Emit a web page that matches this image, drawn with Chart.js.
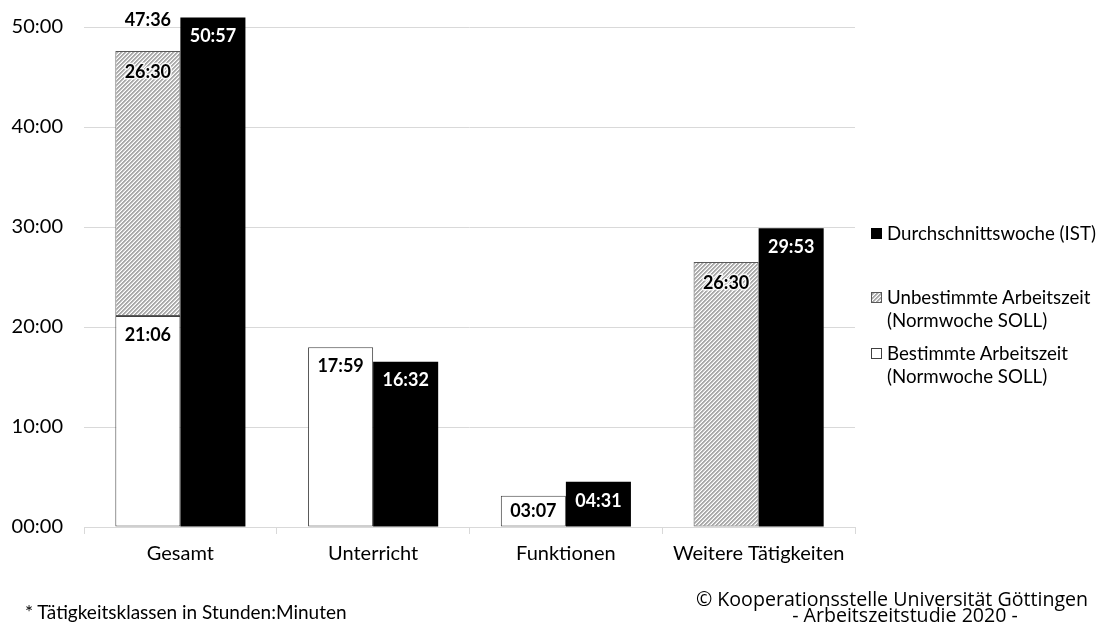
<!DOCTYPE html>
<html>
<head>
<meta charset="utf-8">
<script src="https://cdn.jsdelivr.net/npm/chart.js@4/dist/chart.umd.min.js"></script>
<style>
  html, body { margin: 0; padding: 0; background: #fff; }
  #wrap { position: relative; width: 1100px; height: 623px; overflow: hidden; }
  canvas { position: absolute; left: 0; top: 0; }
  .leg { position: absolute; left: 870px; font-family: Lato, sans-serif; font-size: 18.7px; color: #000; line-height: 23px; white-space: nowrap; }
  .sw { position: absolute; left: 1px; top: 6px; width: 11px; height: 11px; box-sizing: border-box; }
  .leg span.t { display: block; margin-left: 17px; }
  .foot1 { position: absolute; left: 25px; top: 600px; font-family: Lato, sans-serif; font-size: 19px; color: #000; white-space: nowrap; }
  .foot2 { position: absolute; width: 400px; text-align: center; font-family: "Open Sans", sans-serif; font-size: 19.6px; line-height: 19px; color: #000; white-space: nowrap; }
</style>
</head>
<body>
<div id="wrap">
  <canvas id="c" width="1100" height="623"></canvas>
  <div class="leg" style="top:222px"><div class="sw" style="background:#000"></div><span class="t">Durchschnittswoche (IST)</span></div>
  <div class="leg" style="top:286px"><div class="sw" id="swH" style="border:1px solid #595959"></div><span class="t">Unbestimmte Arbeitszeit<br>(Normwoche SOLL)</span></div>
  <div class="leg" style="top:342px"><div class="sw" style="background:#fff;border:1px solid #404040"></div><span class="t">Bestimmte Arbeitszeit<br>(Normwoche SOLL)</span></div>
  <div class="foot1">* Tätigkeitsklassen in Stunden:Minuten</div>
  <div class="foot2" style="left:692px; top:589px">© Kooperationsstelle Universität Göttingen</div>
  <div class="foot2" style="left:705px; top:605px">- Arbeitszeitstudie 2020 -</div>
</div>
<script>
// ---- data ----
const categories = ['Gesamt', 'Unterricht', 'Funktionen', 'Weitere Tätigkeiten'];
const seriesNames = ['Bestimmte Arbeitszeit (Normwoche SOLL)', 'Unbestimmte Arbeitszeit (Normwoche SOLL)', 'Durchschnittswoche (IST)'];
const bestimmtTimes = ['21:06', '17:59', '03:07', null];
const unbestimmtTimes = ['26:30', null, null, '26:30'];
const istTimes = ['50:57', '16:32', '04:31', '29:53'];
const sollTotalTimes = ['47:36', null, null, null];
const yTickValues = [0, 10, 20, 30, 40, 50];
const yTickLabels = ['00:00', '10:00', '20:00', '30:00', '40:00', '50:00'];

function toHours(s) { if (!s) return null; const p = s.split(':'); return (+p[0]) + (+p[1]) / 60; }
const bestimmtVals = bestimmtTimes.map(toHours);
const unbestimmtVals = unbestimmtTimes.map(toHours);
const istVals = istTimes.map(toHours);

// hatch pattern
function makeHatch() {
  const n = 4;
  const shades = [170, 170, 215, 255];
  const cv = document.createElement('canvas'); cv.width = n; cv.height = n;
  const cx = cv.getContext('2d');
  const img = cx.createImageData(n, n);
  for (let y = 0; y < n; y++) for (let x = 0; x < n; x++) {
    const i = (y * n + x) * 4;
    const g = shades[(x + y) % n];
    img.data[i] = g; img.data[i+1] = g; img.data[i+2] = g; img.data[i+3] = 255;
  }
  cx.putImageData(img, 0, 0);
  return cv;
}
const hatchCanvas = makeHatch();
const ctx = document.getElementById('c').getContext('2d');
const hatch = ctx.createPattern(hatchCanvas, 'repeat');
document.getElementById('swH').style.background = 'url(' + hatchCanvas.toDataURL() + ')';

const labelSets = [bestimmtTimes, unbestimmtTimes, istTimes];

const labelPlugin = {
  id: 'valueLabels',
  afterDatasetsDraw(chart) {
    const c = chart.ctx;
    c.save();
    c.font = 'bold 18px Lato, sans-serif';
    c.textAlign = 'center';
    c.textBaseline = 'middle';
    chart.data.datasets.forEach((ds, di) => {
      const meta = chart.getDatasetMeta(di);
      meta.data.forEach((bar, i) => {
        const txt = labelSets[di][i];
        if (!txt) return;
        const top = Math.min(bar.y, bar.base);
        const h = Math.abs(bar.base - bar.y);
        const y = top + Math.min(di === 1 ? 21 : 19, h / 2);
        c.fillStyle = di === 2 ? '#fff' : '#000';
        if (di === 1) {
          c.lineWidth = 3; c.strokeStyle = 'rgba(255,255,255,0.85)'; c.lineJoin = 'round';
          c.strokeText(txt, bar.x, y);
        }
        c.fillText(txt, bar.x, y);
      });
    });
    const meta1 = chart.getDatasetMeta(1);
    meta1.data.forEach((bar, i) => {
      const txt = sollTotalTimes[i];
      if (!txt) return;
      c.fillStyle = '#000';
      c.fillText(txt, bar.x, bar.y - 31);
    });
    c.restore();
  }
};

new Chart(ctx, {
  type: 'bar',
  data: {
    labels: categories,
    datasets: [
      { label: seriesNames[0], data: bestimmtVals, stack: 'soll', backgroundColor: '#ffffff', borderColor: '#404040', borderWidth: 1, borderSkipped: false },
      { label: seriesNames[1], data: unbestimmtVals, stack: 'soll', backgroundColor: hatch, borderColor: '#595959', borderWidth: 1, borderSkipped: false },
      { label: seriesNames[2], data: istVals, stack: 'ist', backgroundColor: '#000000', borderColor: '#000000', borderWidth: 0 }
    ]
  },
  options: {
    responsive: false,
    animation: false,
    events: [],
    layout: { padding: { left: 0, right: 245, top: 17, bottom: 0 } },
    plugins: { legend: { display: false }, tooltip: { enabled: false } },
    datasets: { bar: { categoryPercentage: 0.675, barPercentage: 1.0 } },
    scales: {
      x: {
        stacked: true,
        grid: { display: true, drawOnChartArea: false, drawTicks: true, tickLength: 7, color: '#d9d9d9', offset: true },
        border: { display: true, color: '#d9d9d9', width: 1 },
        ticks: { color: '#000', font: { family: 'Lato', size: 20 }, padding: 8 },
        afterFit(s) { s.height = 96; }
      },
      y: {
        stacked: true,
        min: 0, max: 51,
        grid: { color: '#d9d9d9', drawTicks: false },
        border: { display: false },
        ticks: {
          padding: 21, color: '#000', font: { family: 'Lato', size: 20 },
          callback: (v) => yTickLabels[yTickValues.indexOf(v)]
        },
        afterBuildTicks(s) { s.ticks = yTickValues.map(v => ({ value: v })); },
        afterFit(s) { s.width = 84; s.paddingTop = 0; s.paddingBottom = 0; }
      }
    }
  },
  plugins: [labelPlugin]
});
</script>
</body>
</html>
